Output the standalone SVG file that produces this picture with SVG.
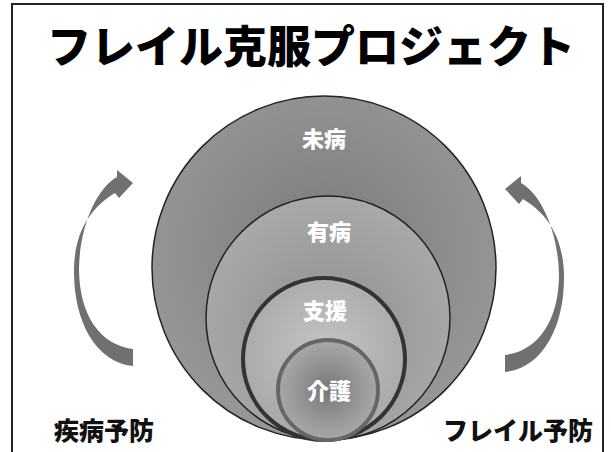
<svg xmlns="http://www.w3.org/2000/svg" width="611" height="452" viewBox="0 0 611 452">
<defs>
<style>
.lbl{font-family:"Noto Sans CJK JP","Noto Sans",sans-serif;font-weight:900;fill:#fff;text-anchor:middle;font-size:22px}
.cap{font-family:"Noto Sans CJK JP","Noto Sans",sans-serif;font-weight:900;fill:#111;font-size:25px}
.arrow{fill:#707070}
</style>
<radialGradient id="g1" cx="0.5" cy="0.45" r="0.55"><stop offset="0" stop-color="#7a7a7a"/><stop offset="1" stop-color="#979797"/></radialGradient>
<radialGradient id="g2" cx="0.5" cy="0.55" r="0.55"><stop offset="0" stop-color="#8e8e8e"/><stop offset="1" stop-color="#a9a9a9"/></radialGradient>
<radialGradient id="g3" cx="0.5" cy="0.45" r="0.6"><stop offset="0" stop-color="#c4c4c4"/><stop offset="1" stop-color="#a6a6a6"/></radialGradient>
<radialGradient id="g4" cx="0.5" cy="0.5" r="0.5"><stop offset="0" stop-color="#787878"/><stop offset="1" stop-color="#a8a8a8"/></radialGradient>
<path id="arr" d="M133,366 C95,362 73,320 74,268 C75,232 90,208 115,193 L119,198 L133,183 L117,170 L117,177 C97,188 80,225 79,268 C79,315 100,345 133,349 Z"/>
</defs>
<rect width="611" height="452" fill="#fff"/>
<path d="M12,452 V4 H603 V452" fill="none" stroke="#222" stroke-width="2"/>
<text x="311" y="63" font-family="'Noto Sans CJK JP',sans-serif" font-weight="900" font-size="44" text-anchor="middle" fill="#000">フレイル克服プロジェクト</text>
<g id="arrows" class="arrow">
<use href="#arr"/>
<use href="#arr" transform="translate(638,6) scale(-1,1)"/>
</g>
<g id="n-mibyo">
<circle cx="324" cy="268" r="172" fill="url(#g1)" stroke="#222" stroke-width="1.5"/>
<text class="lbl" x="324" y="147">未病</text>
</g>
<g id="n-yubyo">
<circle cx="328" cy="318" r="122" fill="url(#g2)" stroke="#222" stroke-width="1.5"/>
<text class="lbl" x="329" y="240">有病</text>
</g>
<g id="n-shien">
<circle cx="324" cy="359" r="81" fill="url(#g3)" stroke="#333" stroke-width="4"/>
<text class="lbl" x="325" y="319">支援</text>
</g>
<g id="n-kaigo">
<circle cx="328" cy="390" r="50" fill="url(#g4)" stroke="#666" stroke-width="4"/>
<text class="lbl" x="329" y="399">介護</text>
</g>
<text class="cap" x="54" y="440">疾病予防</text>
<text class="cap" x="443" y="440">フレイル予防</text>
</svg>
